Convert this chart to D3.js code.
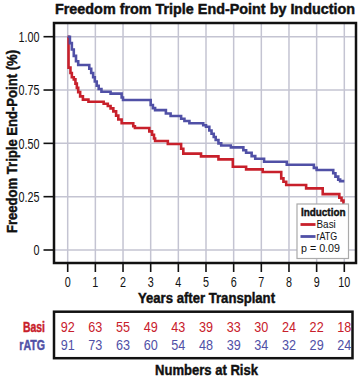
<!DOCTYPE html>
<html><head><meta charset="utf-8">
<script src="https://cdn.jsdelivr.net/npm/d3@7"></script>
<style>
html,body{margin:0;padding:0;background:#fff;}
svg{display:block;}
text{font-family:"Liberation Sans Narrow","Arial Narrow","Liberation Sans",Arial,sans-serif;}
</style></head>
<body>
<svg id="chart" width="359" height="378"></svg>
<script>
const title = "Freedom from Triple End-Point by Induction";
const yTitle = "Freedom Triple End-Point (%)";
const xTitle = "Years after Transplant";
const riskTitle = "Numbers at Risk";
const groups = ["Basi", "rATG"];
const colors = ["#c8202b", "#5050a6"];
const xTicks = [0,1,2,3,4,5,6,7,8,9,10];
const yTicks = [0, 0.25, 0.5, 0.75, 1.0];
const yTickLabels = ["0", "0.25", "0.50", "0.75", "1.00"];
const pText = "p = 0.09";
const legendTitle = "Induction";

// step points [time, survival]
const basiTime = [0,0.03,0.1,0.15,0.22,0.28,0.33,0.38,0.45,0.55,0.75,1.3,1.45,1.55,1.65,1.75,1.83,1.95,2.37,2.43,2.95,3.05,3.12,3.16,3.62,4.1,4.18,4.82,5.45,5.97,6.45,7.05,7.72,7.8,7.9,8.62,9.22,9.82,9.9,9.97,10];
const basiSurv = [1.0,0.855,0.83,0.81,0.8,0.78,0.76,0.74,0.72,0.705,0.695,0.686,0.675,0.664,0.65,0.63,0.612,0.594,0.58,0.572,0.556,0.54,0.523,0.511,0.497,0.475,0.452,0.439,0.425,0.39,0.378,0.366,0.336,0.32,0.305,0.289,0.262,0.245,0.232,0.222,0.222];
const ratgTime = [0,0.08,0.15,0.22,0.3,0.38,0.78,0.85,0.92,0.98,1.05,1.12,1.22,1.55,1.95,2.0,3.0,3.08,3.16,3.55,3.72,4.1,4.22,4.4,4.9,5.0,5.12,5.2,5.28,5.35,5.45,5.55,5.9,6.35,6.45,6.65,6.78,7.1,7.92,8.9,9.0,9.6,9.68,9.78,9.85,10];
const ratgSurv = [1.0,0.97,0.94,0.91,0.885,0.867,0.85,0.83,0.81,0.79,0.77,0.755,0.742,0.733,0.715,0.703,0.68,0.665,0.656,0.64,0.628,0.615,0.605,0.594,0.585,0.578,0.56,0.545,0.53,0.516,0.5,0.49,0.481,0.468,0.456,0.44,0.428,0.414,0.4,0.385,0.375,0.36,0.344,0.33,0.323,0.323];

const basiRisk = [92,63,55,49,43,39,33,30,24,22,18];
const ratgRisk = [91,73,63,60,54,48,39,34,32,29,24];

const svg = d3.select("#chart");
const box = {l:54, r:356, t:23, b:263};
const x = d3.scaleLinear().domain([0,10]).range([67.7, 344.3]);
const y = d3.scaleLinear().domain([0,1]).range([250, 36.7]);

function fitW(sel, w){ sel.attr("textLength", w).attr("lengthAdjust","spacingAndGlyphs"); }
function squeeze(sel, k){
  sel.each(function(){
    const L = this.getComputedTextLength();
    d3.select(this).attr("textLength", L*k).attr("lengthAdjust","spacingAndGlyphs");
  });
}
function heavy(sel, c){ sel.attr("stroke", c || "#111").attr("stroke-width", 0.45); }

// grid
const g = svg.append("g");
g.selectAll("line.vg").data(xTicks).enter().append("line")
  .attr("x1", d=>x(d)).attr("x2", d=>x(d)).attr("y1", box.t).attr("y2", box.b)
  .attr("stroke", "#c4c4d2").attr("stroke-width", 1.5);
g.selectAll("line.hg").data(yTicks).enter().append("line")
  .attr("x1", box.l).attr("x2", box.r).attr("y1", d=>y(d)).attr("y2", d=>y(d))
  .attr("stroke", "#c4c4d2").attr("stroke-width", 1.5);

// curves
const line = d3.line().x(d=>x(d[0])).y(d=>y(d[1])).curve(d3.curveStepAfter);
const series = [d3.zip(basiTime, basiSurv), d3.zip(ratgTime, ratgSurv)];
series.forEach((s,i)=>{
  svg.append("path").datum(s).attr("d", line).attr("fill","none")
    .attr("stroke", colors[i]).attr("stroke-width", 2.6).attr("stroke-linejoin","miter");
});

// plot border
svg.append("rect").attr("x", box.l).attr("y", box.t).attr("width", box.r-box.l).attr("height", box.b-box.t)
  .attr("fill","none").attr("stroke","#111").attr("stroke-width",2.5);

// y axis ticks
svg.append("g").selectAll("line").data(yTicks).enter().append("line")
  .attr("x1", 43.5).attr("x2", box.l).attr("y1", d=>y(d)).attr("y2", d=>y(d))
  .attr("stroke","#111").attr("stroke-width",1.6);
svg.append("g").selectAll("text").data(yTicks).enter().append("text")
  .attr("x", 39.5).attr("y", d=>y(d)).attr("dy","0.36em").attr("text-anchor","end")
  .attr("font-size", 14.5).attr("fill","#111").text((d,i)=>yTickLabels[i])
  .call(squeeze, 0.745);

// x axis ticks
svg.append("g").selectAll("line").data(xTicks).enter().append("line")
  .attr("x1", d=>x(d)).attr("x2", d=>x(d)).attr("y1", box.b).attr("y2", 272)
  .attr("stroke","#111").attr("stroke-width",1.6);
svg.append("g").selectAll("text").data(xTicks).enter().append("text")
  .attr("x", d=>x(d)).attr("y", 281.5).attr("dy","0.36em").attr("text-anchor","middle")
  .attr("font-size", 14).attr("fill","#111").text(d=>d)
  .call(squeeze, 0.77);

// titles
svg.append("text").attr("x", 205).attr("y", 14).attr("text-anchor","middle")
  .attr("font-size", 14.5).attr("font-weight","bold").attr("fill","#111").text(title).call(fitW, 300).call(heavy);
svg.append("text").attr("x", 206.5).attr("y", 303).attr("text-anchor","middle")
  .attr("font-size", 14.5).attr("font-weight","bold").attr("fill","#111").text(xTitle).call(fitW, 137).call(heavy);
svg.append("text").attr("transform","translate(16.5,141.5) rotate(-90)").attr("text-anchor","middle")
  .attr("font-size", 15).attr("font-weight","bold").attr("fill","#111").text(yTitle).call(fitW, 183).call(heavy);
svg.append("text").attr("x", 206.5).attr("y", 375).attr("text-anchor","middle")
  .attr("font-size", 15).attr("font-weight","bold").attr("fill","#111").text(riskTitle).call(fitW, 103).call(heavy);

// legend
const lg = svg.append("g");
lg.append("rect").attr("x", 297).attr("y", 204).attr("width", 51.5).attr("height", 54.5)
  .attr("fill","#fff").attr("stroke","#aaaaaa").attr("stroke-width",1.2);
lg.append("text").attr("x", 301).attr("y", 212.5).attr("dy","0.36em")
  .attr("font-size", 11).attr("font-weight","bold").attr("fill","#111").text(legendTitle).call(fitW, 44.5).call(heavy);
const legW = [19.3, 20.7];
groups.forEach((gname,i)=>{
  const yy = 224.5 + i*12;
  lg.append("line").attr("x1", 300.5).attr("x2", 315.5).attr("y1", yy).attr("y2", yy)
    .attr("stroke", colors[i]).attr("stroke-width", 2.8);
  lg.append("text").attr("x", 316.5).attr("y", yy).attr("dy","0.36em")
    .attr("font-size", 11).attr("fill","#111").text(gname).call(fitW, legW[i]);
});
lg.append("text").attr("x", 301).attr("y", 248.3).attr("dy","0.36em")
  .attr("font-size", 11).attr("fill","#111").text(pText).call(fitW, 39);

// risk table
svg.append("rect").attr("x", 54).attr("y", 311.7).attr("width", 298.5).attr("height", 46.5)
  .attr("fill","none").attr("stroke","#111").attr("stroke-width",2.5);
const risks = [basiRisk, ratgRisk];
const labW = [22, 25.7];
risks.forEach((r,i)=>{
  const yy = 326.5 + i*18.5;
  svg.append("text").attr("x", 45).attr("y", yy).attr("dy","0.36em").attr("text-anchor","end")
    .attr("font-size", 14.5).attr("font-weight","bold").attr("fill", colors[i]).text(groups[i]).call(fitW, labW[i]).call(heavy, colors[i]);
  svg.append("g").selectAll("text").data(r).enter().append("text")
    .attr("x", (d,j)=>x(xTicks[j])).attr("y", yy).attr("dy","0.36em").attr("text-anchor","middle")
    .attr("font-size", 14.5).attr("fill", colors[i]).text(d=>d)
    .call(squeeze, 0.87);
});
</script>
</body></html>
